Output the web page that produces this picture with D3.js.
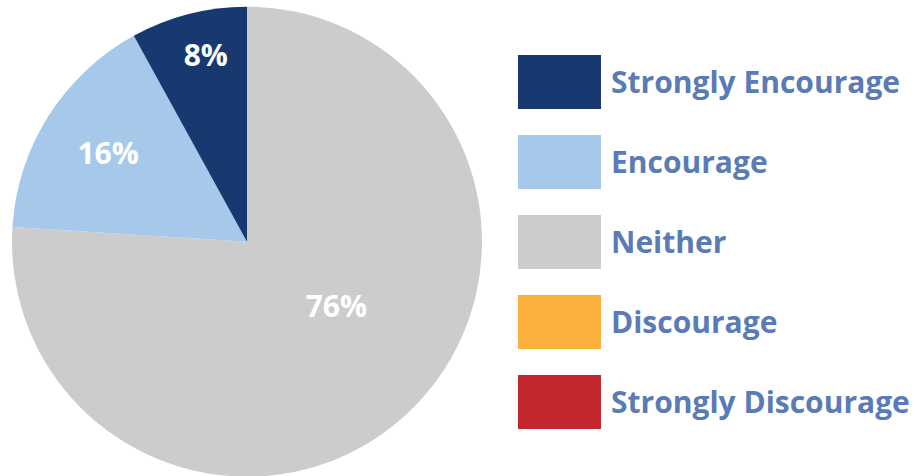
<!DOCTYPE html>
<html>
<head>
<meta charset="utf-8">
<script src="https://cdn.jsdelivr.net/npm/d3@7"></script>
<style>
  html, body { margin: 0; padding: 0; background: #fff; }
  svg { display: block; }
  text { font-family: "Open Sans", "Noto Sans", sans-serif; font-weight: 700; }
</style>
</head>
<body>
<svg id="chart" width="917" height="476"></svg>
<script>
// Response shares, in the order the slices are laid out clockwise from 12 o'clock
const categories = ["Strongly Discourage", "Discourage", "Neither", "Encourage", "Strongly Encourage"];
const shares = [0, 0, 76, 16, 8];
const colors = ["#c1272d", "#fbb03b", "#cccccc", "#a6c8ea", "#17396f"];
const legendOrder = ["Strongly Encourage", "Encourage", "Neither", "Discourage", "Strongly Discourage"];

const svg = d3.select("#chart");
const cx = 247, cy = 241.7, radius = 235;

const color = d3.scaleOrdinal().domain(categories).range(colors);
const data = categories.map((c, i) => ({ category: c, value: shares[i] }));

const pie = d3.pie().sort(null).value(d => d.value);
const arc = d3.arc().innerRadius(0).outerRadius(radius);
const arcs = pie(data);

const g = svg.append("g").attr("transform", `translate(${cx},${cy})`);

g.selectAll("path.slice")
  .data(arcs.filter(a => a.data.value > 0))
  .join("path")
  .attr("class", "slice")
  .attr("d", arc)
  .attr("fill", d => color(d.data.category));

// Label placement: fraction of radius and angular nudge per slice
const labelLayout = {
  "Neither": { r: 0.47, nudge: -10.8 },
  "Encourage": { r: 0.70, nudge: 0 },
  "Strongly Encourage": { r: 0.81, nudge: 1.9 }
};

g.selectAll("text.pct")
  .data(arcs.filter(a => a.data.value > 0))
  .join("text")
  .attr("class", "pct")
  .each(function(d) {
    const l = labelLayout[d.data.category];
    const a = (d.startAngle + d.endAngle) / 2 + l.nudge * Math.PI / 180;
    const r = radius * l.r;
    d3.select(this)
      .attr("x", Math.sin(a) * r)
      .attr("y", -Math.cos(a) * r);
  })
  .attr("text-anchor", "middle")
  .attr("dy", "0.35em")
  .attr("fill", "#ffffff")
  .attr("font-size", 30)
  .text(d => d.data.value + "%");

// Legend
const legendY = d3.scaleBand().domain(legendOrder).range([55, 455]).paddingInner(0);
const legend = svg.append("g");
const items = legend.selectAll("g.item")
  .data(legendOrder)
  .join("g")
  .attr("class", "item")
  .attr("transform", d => `translate(518,${legendY(d)})`);

items.append("rect")
  .attr("width", 83)
  .attr("height", 54)
  .attr("fill", d => color(d));

items.append("text")
  .attr("x", 93)
  .attr("y", 38)
  .attr("fill", "#5a7bb5")
  .attr("font-size", 30)
  .text(d => d);
</script>
</body>
</html>
